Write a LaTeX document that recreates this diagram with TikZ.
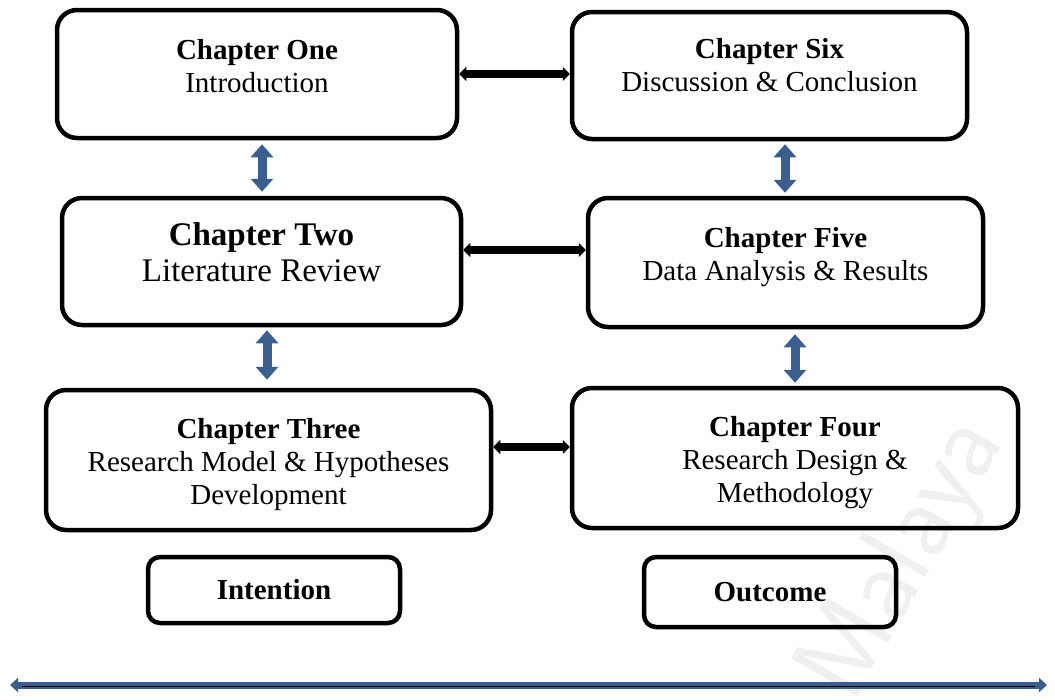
\documentclass[tikz,border=0pt]{standalone}
\usepackage{fontspec}
\setmainfont{Liberation Serif}
\usetikzlibrary{arrows.meta}
\definecolor{arrowblue}{RGB}{58,95,143}
\definecolor{markgray}{RGB}{240,240,240}
\newcommand{\chapfont}{\fontsize{29}{33}\selectfont}
\newcommand{\bigchapfont}{\fontsize{33}{36}\selectfont}

\begin{document}
\begin{tikzpicture}[x=1pt, y=-1pt,
  chapbox/.style={draw, line width=4.5pt, rounded corners=20pt},
  tagbox/.style={draw, line width=4.5pt, rounded corners=12pt,
    minimum width=252pt, minimum height=66pt, font=\chapfont\bfseries},
  chaptext/.style={align=center, font=\chapfont},
  link/.style={{Triangle[length=7pt,width=14pt]}-{Triangle[length=7pt,width=14pt]},
    line width=8pt},
  updown/.style={{Triangle[length=13pt,width=22pt]}-{Triangle[length=13pt,width=22pt]},
    line width=9pt, arrowblue},
]
  \useasboundingbox (0,0) rectangle (1055,699);

  % Watermark
  \node[font=\sffamily\fontsize{110}{110}\selectfont, text=markgray, rotate=60]
    (mark) at (905,560) {Malaya};

  % Chapter boxes
  \node[chapbox, minimum width=400pt, minimum height=128pt] (one) at (257,74) {};
  \node[chapbox, minimum width=395pt, minimum height=127pt] (six) at (769.5,75.5) {};
  \node[chapbox, minimum width=399pt, minimum height=127pt] (two) at (261.5,261.5) {};
  \node[chapbox, minimum width=395pt, minimum height=129pt] (five) at (785.5,262.5) {};
  \node[chapbox, minimum width=445pt, minimum height=140pt] (three) at (268.5,460) {};
  \node[chapbox, minimum width=446pt, minimum height=140pt] (four) at (795,458) {};

  % Chapter texts
  \node[chaptext] (onetxt) at (257,66) {\textbf{Chapter One}\\Introduction};
  \node[chaptext] (sixtxt) at (769.5,65) {\textbf{Chapter Six}\\Discussion \& Conclusion};
  \node[chaptext, font=\bigchapfont] (twotxt) at (261.5,252)
    {\textbf{Chapter Two}\\Literature Review};
  \node[chaptext] (fivetxt) at (785.5,257) {\textbf{Chapter Five}\\Data Analysis \& Results};
  \node[chaptext] (threetxt) at (268.5,465)
    {\textbf{Chapter Three}\\Research Model \& Hypotheses\\Development};
  \node[chaptext] (fourtxt) at (795,463)
    {\textbf{Chapter Four}\\Research Design \&\\Methodology};

  % Intention / outcome
  \node[tagbox] (intent) at (274,590) {Intention};
  \node[tagbox, minimum height=70pt] (outcome) at (770,592) {Outcome};

  % Horizontal links
  \draw[link] (one.east) -- (one.east -| six.west);
  \draw[link] ([yshift=11.5pt]two.east) -- ([yshift=11.5pt]two.east -| five.west);
  \draw[link] ([yshift=13pt]three.east) -- ([yshift=13pt]three.east -| four.west);

  % Vertical links
  \draw[updown, shorten <=4pt, shorten >=4pt]
    ([xshift=5pt]one.south) -- ([xshift=5pt]one.south |- two.north);
  \draw[updown, shorten <=3pt, shorten >=8pt]
    ([xshift=5.5pt]two.south) -- ([xshift=5.5pt]two.south |- three.north);
  \draw[updown, shorten <=3pt, shorten >=3pt]
    ([xshift=15.5pt]six.south) -- ([xshift=15.5pt]six.south |- five.north);
  \draw[updown, shorten <=5pt, shorten >=3pt]
    ([xshift=9.5pt]five.south) -- ([xshift=9.5pt]five.south |- four.north);

  % Timeline
  \coordinate (lineL) at (10,685);
  \coordinate (lineR) at (1047,685);
  \draw[arrowblue, line width=7pt,
    {Triangle[length=8pt,width=14pt]}-{Triangle[length=8pt,width=14pt]}]
    (lineL) -- (lineR);
  \draw[line width=1pt] ([xshift=12pt,yshift=-1pt]lineL) -- ([xshift=-12pt,yshift=-1pt]lineR);
\end{tikzpicture}
\end{document}
